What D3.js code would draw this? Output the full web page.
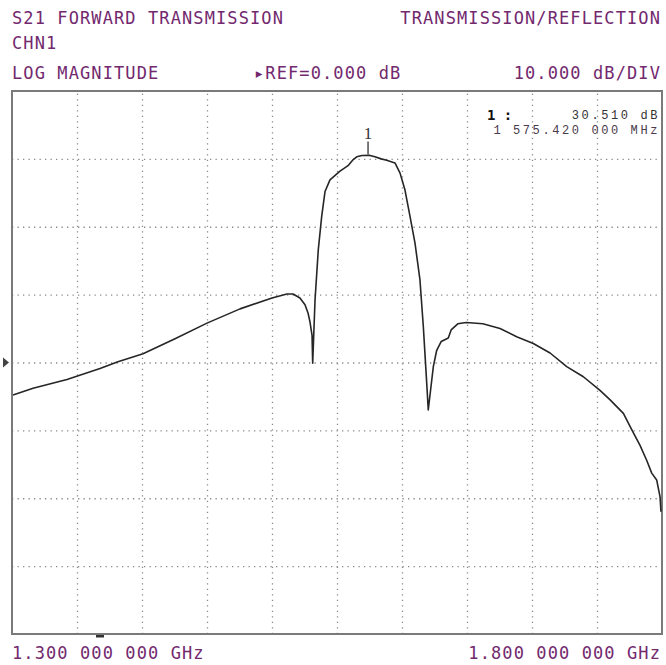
<!DOCTYPE html>
<html>
<head>
<meta charset="utf-8">
<script src="https://cdn.jsdelivr.net/npm/d3@7"></script>
<style>
  html, body { margin: 0; padding: 0; background: #fff; }
  svg { display: block; }
</style>
</head>
<body>
<div id="chart"></div>
<script>
const width = 666;
const height = 665;

// trace: frequency in MHz, S21 in dB
const freqMHz = [
  1300.8, 1316.2, 1342.3, 1367.7, 1381.5, 1400.8, 1425.4, 1450.0, 1475.4, 1500.0,
  1511.5, 1516.2, 1521.5, 1525.4, 1527.7, 1529.2, 1530.8, 1531.3, 1533.1, 1535.6,
  1538.2, 1540.8, 1544.6, 1552.3, 1558.5, 1562.0, 1565.2, 1569.2, 1575.4, 1579.2,
  1584.0, 1588.2, 1594.6, 1598.5, 1602.3, 1606.2, 1610.0, 1613.8, 1616.4, 1619.0,
  1620.2, 1624.1, 1626.7, 1630.2, 1635.6, 1637.8, 1642.9, 1649.4, 1662.2, 1675.4,
  1688.2, 1701.0, 1713.9, 1726.7, 1739.5, 1752.3, 1760.1, 1770.3, 1776.7, 1783.1,
  1788.2, 1792.1, 1795.9, 1798.5, 1799.2
];
const s21dB = [
  -4.8, -3.8, -2.5, -0.9, 0.1, 1.3, 3.5, 5.8, 7.9, 9.5,
  10.1, 10.1, 9.5, 8.5, 7.3, 6.0, 4.0, -0.1, 9.2, 16.6,
  21.5, 25.2, 26.9, 28.2, 29.0, 29.8, 30.3, 30.5, 30.51, 30.3,
  30.0, 29.8, 29.4, 27.9, 25.4, 21.5, 17.6, 12.2, 5.3, -3.0,
  -7.0, -0.6, 1.8, 3.1, 3.6, 4.8, 5.7, 5.9, 5.7, 5.0,
  3.8, 2.8, 1.4, -0.6, -2.1, -4.1, -5.5, -7.5, -9.9, -12.2,
  -14.4, -16.3, -17.3, -19.8, -22.0
];

const startMHz = 1300;
const stopMHz = 1800;
const refDB = 0;
const dbPerDiv = 10;
const xDivs = 10;
const yDivs = 8;

const headerLeft = ['S21 FORWARD TRANSMISSION', 'CHN1', 'LOG MAGNITUDE'];
const headerRight = ['TRANSMISSION/REFLECTION', '10.000 dB/DIV'];
const refLabel = '\u25B8REF=0.000 dB';
const startLabel = '1.300 000 000 GHz';
const stopLabel = '1.800 000 000 GHz';
const markerValue = '30.510 dB';
const markerFreq = '1 575.420 000 MHz';
const markerFreqMHz = 1575.42;
const markerDB = 30.51;

const plot = {left: 12, right: 662, top: 91, bottom: 634};
const purple = '#72296e';
const mono = '"DejaVu Sans Mono", "Liberation Mono", monospace';

const x = d3.scaleLinear().domain([startMHz, stopMHz]).range([plot.left, plot.right]);
const y = d3.scaleLinear()
  .domain([refDB - dbPerDiv * yDivs / 2, refDB + dbPerDiv * yDivs / 2])
  .range([plot.bottom, plot.top]);

const svg = d3.select('#chart').append('svg')
  .attr('width', width)
  .attr('height', height);

// dotted graticule
const xStep = (stopMHz - startMHz) / xDivs;
const gridX = d3.range(1, xDivs).map((i)=>startMHz + i * xStep);
const gridY = d3.range(1, yDivs).map((i)=>y.domain()[0] + i * dbPerDiv);

svg.append('g')
  .attr('transform', `translate(0,${plot.bottom})`)
  .call(d3.axisBottom(x).tickValues(gridX).tickSize(-(plot.bottom - plot.top)).tickFormat(''))
  .call((g)=>g.select('.domain').remove())
  .call((g)=>g.selectAll('line')
    .attr('stroke', '#8a8a8a')
    .attr('stroke-width', 1.3)
    .attr('stroke-dasharray', '1.3,4.2'));

svg.append('g')
  .attr('transform', `translate(${plot.left},0)`)
  .call(d3.axisLeft(y).tickValues(gridY).tickSize(-(plot.right - plot.left)).tickFormat(''))
  .call((g)=>g.select('.domain').remove())
  .call((g)=>g.selectAll('line')
    .attr('stroke', '#8a8a8a')
    .attr('stroke-width', 1.3)
    .attr('stroke-dasharray', '1.3,4.2'));

// frame
svg.append('rect')
  .attr('x', plot.left)
  .attr('y', plot.top)
  .attr('width', plot.right - plot.left)
  .attr('height', plot.bottom - plot.top)
  .attr('fill', 'none')
  .attr('stroke', '#7a7a7a')
  .attr('stroke-width', 2);

// reference arrow
const yRef = y(refDB);
svg.append('path')
  .attr('d', `M3,${yRef - 5}L9,${yRef}L3,${yRef + 5}Z`)
  .attr('fill', '#444');

// small cursor tick under the frame
svg.append('rect')
  .attr('x', 96).attr('y', plot.bottom + 1)
  .attr('width', 8).attr('height', 2.5)
  .attr('fill', '#333');

// trace
const points = freqMHz.map((f, i)=>[f, s21dB[i]]);
const line = d3.line()
  .x((d)=>x(d[0]))
  .y((d)=>y(d[1]));

svg.append('path')
  .datum(points)
  .attr('d', line)
  .attr('fill', 'none')
  .attr('stroke', '#262626')
  .attr('stroke-width', 1.6)
  .attr('stroke-linejoin', 'round');

// marker 1
const mx = x(markerFreqMHz) - 2;
const my = y(markerDB);
svg.append('line')
  .attr('x1', mx).attr('x2', mx)
  .attr('y1', my - 14).attr('y2', my - 1)
  .attr('stroke', '#333')
  .attr('stroke-width', 1.3);
svg.append('text')
  .attr('x', mx).attr('y', my - 16)
  .attr('text-anchor', 'middle')
  .attr('font-family', '"Liberation Serif", "DejaVu Serif", serif')
  .attr('font-size', 17)
  .attr('fill', '#333')
  .text('1');

// marker readout
svg.append('text')
  .attr('x', 487).attr('y', 120)
  .attr('font-family', mono)
  .attr('font-weight', 'bold')
  .attr('font-size', 14)
  .attr('fill', '#111')
  .text('1 :');
svg.append('text')
  .attr('x', 660).attr('y', 119)
  .attr('text-anchor', 'end')
  .attr('font-family', '"Liberation Mono", monospace')
  .attr('font-size', 12)
  .attr('letter-spacing', 2.6)
  .attr('fill', '#333')
  .text(markerValue);
svg.append('text')
  .attr('x', 660).attr('y', 134)
  .attr('text-anchor', 'end')
  .attr('font-family', '"Liberation Mono", monospace')
  .attr('font-size', 12)
  .attr('letter-spacing', 2.6)
  .attr('fill', '#4a3a4a')
  .text(markerFreq);

// header and footer annotations
function label(txt, tx, ty, anchor) {
  svg.append('text')
    .attr('x', tx).attr('y', ty)
    .attr('text-anchor', anchor)
    .attr('font-family', mono)
    .attr('font-size', 17)
    .attr('letter-spacing', 1.1)
    .attr('fill', purple)
    .text(txt);
}

label(headerLeft[0], 12, 24, 'start');
label(headerLeft[1], 12, 49, 'start');
label(headerLeft[2], 12, 79, 'start');
label(headerRight[0], 661, 24, 'end');
label(headerRight[1], 661, 79, 'end');
label(refLabel, 254, 79, 'start');
label(startLabel, 12, 659, 'start');
label(stopLabel, 661, 659, 'end');
</script>
</body>
</html>
